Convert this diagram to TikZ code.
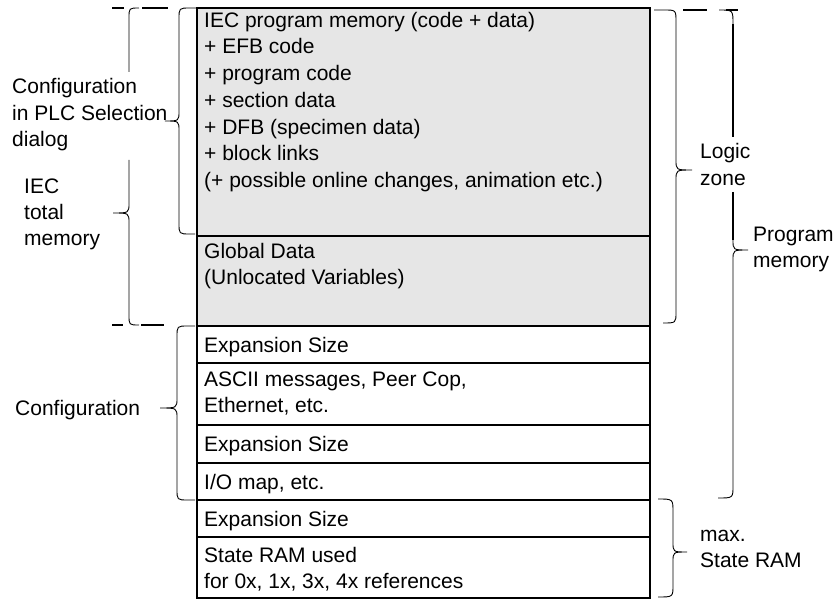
\documentclass[tikz,border=0pt]{standalone}
\usepackage{fontspec}
\setmainfont{Liberation Sans}
\definecolor{boxgray}{HTML}{E6E6E6}
\begin{document}
\begin{tikzpicture}[x=1pt,y=-1pt,
  lbl/.style={anchor=base west, inner sep=0pt, align=left, font=\fontsize{21}{26.8}\selectfont},
  lbls/.style={anchor=base west, inner sep=0pt, align=left, font=\fontsize{21}{26.5}\selectfont},
  memline/.style={line width=2pt},
  bracel/.style={line width=0.9pt},
  bracethick/.style={line width=1.5pt},
  dashseg/.style={line width=2pt}]
\useasboundingbox (0,0) rectangle (839,599);

% memory column
\fill[boxgray] (197,8) rectangle (650,326);
\draw[memline] (197,8) rectangle (650,598);
\foreach \yy in {236,326,363,425,463,500,537}
  \draw[memline] (197,\yy) -- (650,\yy);

% texts inside the column (anchor = baseline of the last line)
\node[lbl] (iec) at (204,187.8) {IEC program memory (code + data)\\+ EFB code\\+ program code\\+ section data\\+ DFB (specimen data)\\+ block links\\(+ possible online changes, animation etc.)};
\node[lbls] (glob) at (204,284.5) {Global Data\\(Unlocated Variables)};
\node[lbl] (exp1) at (204,352) {Expansion Size};
\node[lbls] (ascii) at (204,412.5) {ASCII messages, Peer Cop,\\Ethernet, etc.};
\node[lbl] (exp2) at (204,451) {Expansion Size};
\node[lbl] (io) at (204,489) {I/O map, etc.};
\node[lbl] (exp3) at (204,526) {Expansion Size};
\node[lbls] (sram) at (204,588.5) {State RAM used\\for 0x, 1x, 3x, 4x references};

% left labels
\node[lbls] (cfgplc) at (12,147) {Configuration\\in PLC Selection\\dialog};
\node[lbls] (iectot) at (24,246) {IEC\\total\\memory};
\node[lbls] (cfg) at (15,415) {Configuration};

% right labels
\node[lbls] (logic) at (700,185.5) {Logic\\zone};
\node[lbls] (progmem) at (753,267.5) {Program\\memory};
\node[lbls] (maxsr) at (700,567.5) {max.\\State RAM};

% left braces
% Configuration in PLC Selection dialog
\draw[bracel] (196,8) -- (190,8) .. controls (179,8) .. (179,19) -- (179,111)
  .. controls (179,121) .. (165,121) .. controls (179,121) .. (179,131)
  -- (179,223) .. controls (179,234) .. (190,234) -- (195,234);
% IEC total memory
\draw[bracel] (139,8) .. controls (129,8) .. (129,18) -- (129,72);
\draw[bracel] (129,160) -- (129,203) .. controls (129,213) .. (113,213)
  .. controls (129,213) .. (129,223) -- (129,315) .. controls (129,325) .. (139,325);
\draw[dashseg] (112,8) -- (124,8);
\draw[dashseg] (142,8) -- (168,8);
\draw[dashseg] (112,325) -- (123,325);
\draw[dashseg] (141,325) -- (164,325);
% Configuration
\draw[bracel] (195,326) -- (188,326) .. controls (177,326) .. (177,337) -- (177,398)
  .. controls (177,408) .. (160,408) .. controls (177,408) .. (177,418)
  -- (177,489) .. controls (177,500) .. (188,500) -- (195,500);

% right braces
% Logic zone
\draw[bracel] (654,10) -- (664,10) .. controls (676,10) .. (676,22) -- (676,160)
  .. controls (676,170) .. (692,170) .. controls (676,170) .. (676,180)
  -- (676,312) .. controls (676,323) .. (663,323);
\draw[dashseg] (683,10) -- (707,10);
% Program memory
\draw[bracel] (719,10) .. controls (733,10) .. (733,24);
\draw[bracethick] (733,24) -- (733,137);
\draw[bracethick] (733,192) -- (733,240);
\draw[bracel] (733,240) .. controls (733,250) .. (748,250) .. controls (733,250) .. (733,260)
  -- (733,486) .. controls (733,498) .. (718,498);
\draw[dashseg] (726,10) -- (738,10);
% max. State RAM
\draw[bracel] (658,499) .. controls (673,499) .. (673,512) -- (673,542)
  .. controls (673,552) .. (687,552) .. controls (673,552) .. (673,562)
  -- (673,585) .. controls (673,597) .. (658,597);
\end{tikzpicture}
\end{document}
